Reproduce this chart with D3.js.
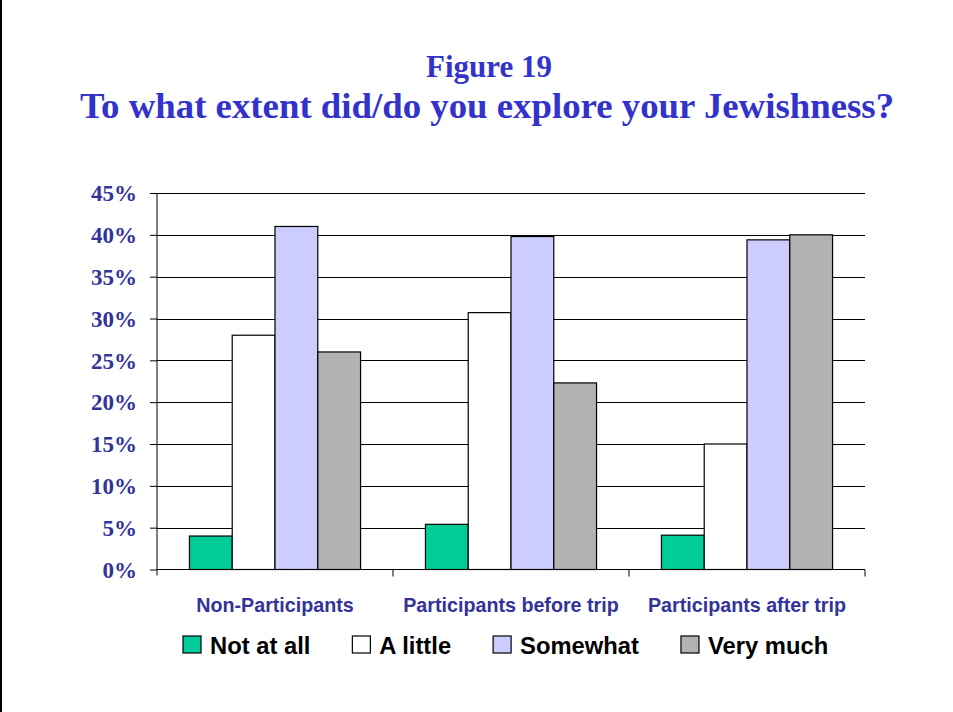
<!DOCTYPE html>
<html>
<head>
<meta charset="utf-8">
<script src="https://cdn.jsdelivr.net/npm/d3@7"></script>
<style>
  html, body { margin: 0; padding: 0; background: #fff; }
  svg { display: block; }
</style>
</head>
<body>
<svg id="chart" width="953" height="712"></svg>
<script>
// Survey groups along the x axis
const categories = ["Non-Participants", "Participants before trip", "Participants after trip"];
// Answer levels (one bar each per group)
const seriesNames = ["Not at all", "A little", "Somewhat", "Very much"];
// Percent of respondents, per answer level, in category order
const notAtAll  = [4.0, 5.4, 4.1];
const aLittle   = [28.0, 30.7, 15.0];
const somewhat  = [41.0, 39.8, 39.4];
const veryMuch  = [26.0, 22.3, 40.0];
const seriesValues = [notAtAll, aLittle, somewhat, veryMuch];
// Y axis tick values (percent)
const yTicks = [0, 5, 10, 15, 20, 25, 30, 35, 40, 45];

const titleLine1 = "Figure 19";
const titleLine2 = "To what extent did/do you explore your Jewishness?";

const colors = ["#00CC99", "#FFFFFF", "#CCCCFF", "#B2B2B2"];

const svg = d3.select("#chart");
const W = 953, H = 712;
const plot = { left: 157, right: 865, top: 193, bottom: 569.5 };
const serif = "'Liberation Serif', 'Times New Roman', serif";
const sans = "'Liberation Sans', Arial, sans-serif";

// left page border
svg.append("line")
  .attr("x1", 1).attr("x2", 1).attr("y1", 0).attr("y2", H)
  .attr("stroke", "#000").attr("stroke-width", 2);

// Titles
svg.append("text")
  .attr("x", 489).attr("y", 77)
  .attr("text-anchor", "middle")
  .attr("font-family", serif)
  .attr("font-weight", "bold")
  .attr("font-size", 31)
  .attr("fill", "#3333CC")
  .text(titleLine1);
svg.append("text")
  .attr("x", 487).attr("y", 118)
  .attr("text-anchor", "middle")
  .attr("font-family", serif)
  .attr("font-weight", "bold")
  .attr("font-size", 36.8)
  .attr("fill", "#3333CC")
  .text(titleLine2);

// Scales
const y = d3.scaleLinear().domain([0, 45]).range([plot.bottom, plot.top]);
const x0 = d3.scaleBand().domain(categories)
  .range([plot.left, plot.right])
  .paddingInner(0.275).paddingOuter(0.1375);
const x1 = d3.scaleBand().domain(seriesNames)
  .range([0, x0.bandwidth()]).padding(0);

// Horizontal gridlines
svg.append("g").selectAll("line")
  .data(yTicks.filter(d => d > 0))
  .join("line")
  .attr("x1", plot.left).attr("x2", plot.right)
  .attr("y1", d => Math.round(y(d)) + 0.5).attr("y2", d => Math.round(y(d)) + 0.5)
  .attr("stroke", "#000").attr("stroke-width", 1);

// Bars
const groups = svg.append("g").selectAll("g")
  .data(categories)
  .join("g")
  .attr("transform", c => `translate(${x0(c)},0)`);

groups.selectAll("rect")
  .data((c, ci) => seriesNames.map((s, si) => ({ s, si, v: seriesValues[si][ci] })))
  .join("rect")
  .attr("x", d => x1(d.s))
  .attr("y", d => y(d.v))
  .attr("width", x1.bandwidth())
  .attr("height", d => y(0) - y(d.v))
  .attr("fill", d => colors[d.si])
  .attr("stroke", "#000")
  .attr("stroke-width", 1.2);

// Y axis
const yAxis = svg.append("g")
  .attr("transform", `translate(${plot.left},0)`)
  .call(d3.axisLeft(y).tickValues(yTicks).tickSize(7).tickPadding(13)
    .tickFormat(d => d + "%"));
yAxis.select(".domain").attr("stroke", "#000").attr("d", `M0,${plot.top}V${plot.bottom + 6}`);
yAxis.selectAll(".tick line").attr("stroke", "#000");
yAxis.selectAll(".tick text")
  .attr("font-family", serif)
  .attr("font-weight", "bold")
  .attr("font-size", 23)
  .attr("fill", "#333399")
  .attr("dy", "0.34em");

// X axis: baseline with ticks on category boundaries
const boundaries = categories.map(c => x0(c) - x0.step() * 0.1375 + x0.step());
svg.append("line")
  .attr("x1", plot.left).attr("x2", plot.right)
  .attr("y1", plot.bottom).attr("y2", plot.bottom)
  .attr("stroke", "#000");
svg.append("g").selectAll("line")
  .data(boundaries)
  .join("line")
  .attr("x1", d => d).attr("x2", d => d)
  .attr("y1", plot.bottom).attr("y2", plot.bottom + 7)
  .attr("stroke", "#000");

// Category labels
svg.append("g").selectAll("text")
  .data(categories)
  .join("text")
  .attr("x", c => x0(c) + x0.bandwidth() / 2)
  .attr("y", 612)
  .attr("text-anchor", "middle")
  .attr("font-family", sans)
  .attr("font-weight", "bold")
  .attr("font-size", 19.7)
  .attr("fill", "#333399")
  .text(c => c);

// Legend (slightly condensed bold labels)
const legend = svg.append("g");
let lx = 183;
seriesNames.forEach((name, i) => {
  legend.append("rect")
    .attr("x", lx).attr("y", 636)
    .attr("width", 18).attr("height", 17)
    .attr("fill", colors[i]).attr("stroke", "#000").attr("stroke-width", 1.2);
  const t = legend.append("text")
    .attr("x", lx + 27).attr("y", 654)
    .attr("font-family", sans)
    .attr("font-weight", "bold")
    .attr("font-size", 24.5)
    .attr("fill", "#000")
    .text(name);
  const w = t.node().getComputedTextLength() * 0.97;
  t.attr("textLength", w).attr("lengthAdjust", "spacingAndGlyphs");
  lx += 27 + w + 42;
});
</script>
</body>
</html>
